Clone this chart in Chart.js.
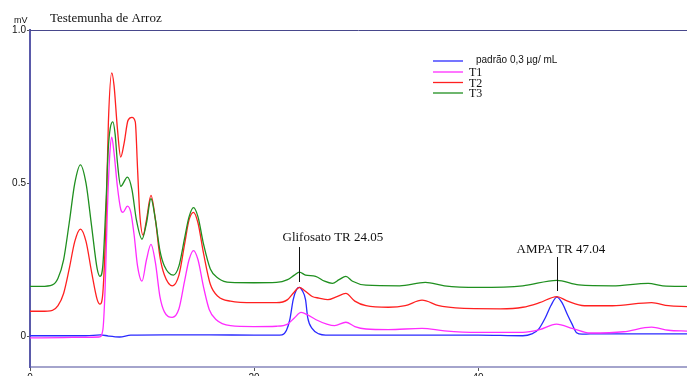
<!DOCTYPE html>
<html>
<head>
<meta charset="utf-8">
<script src="https://cdn.jsdelivr.net/npm/chart.js@4.4.1/dist/chart.umd.min.js"></script>
<style>
  html, body { margin: 0; padding: 0; background: #fff; }
  canvas { display: block; }
</style>
</head>
<body>
<canvas id="chrom" width="687" height="376"></canvas>
<script>
// chart values
const chartTitle = 'Testemunha de Arroz';
const yUnit = 'mV';
const xTickValues = [0, 20, 40];
const yTickValues = [0, 0.5, 1.0];
const yTickLabels = ['0', '0.5', '1.0'];
const seriesNames = ['padrão 0,3 µg/ mL', 'T1', 'T2', 'T3'];
const annotLabels = ['Glifosato TR 24.05', 'AMPA TR 47.04'];
const annotTimes = [24.05, 47.04];

// padrão 0,3 ug/mL
const padraoT = [0, 3, 5, 6.3, 7, 8, 9, 12, 16, 20, 22, 22.5, 22.9, 23.2, 23.5, 23.8, 24.05, 24.3, 24.6, 24.8, 25.2, 25.8, 26.4, 30, 35, 40, 44, 44.8, 45.4, 46.0, 46.5, 47.04, 47.5, 48.0, 48.4, 48.8, 49.3, 50, 55, 58.7];
const padraoV = [0.002, 0.002, 0.002, 0.005, 0.001, -0.002, 0.004, 0.005, 0.005, 0.004, 0.004, 0.005, 0.02, 0.055, 0.12, 0.153, 0.16, 0.15, 0.12, 0.06, 0.025, 0.008, 0.004, 0.004, 0.004, 0.004, 0.002, 0.008, 0.023, 0.06, 0.1, 0.128, 0.11, 0.07, 0.04, 0.012, 0.007, 0.008, 0.008, 0.008];

// T1
const t1T = [0, 3, 5, 6.2, 6.5, 6.7, 6.9, 7.1, 7.3, 7.5, 7.8, 8.1, 8.3, 8.7, 9.0, 9.3, 9.6, 10.0, 10.4, 10.8, 11.2, 11.6, 12.0, 12.7, 13.3, 13.8, 14.2, 14.6, 15.0, 15.5, 16.0, 16.6, 17.9, 20, 22, 23, 23.6, 24.2, 24.8, 25.5, 26.5, 27.2, 28.2, 29, 30, 32, 35, 37, 40, 44, 45.5, 47, 48.5, 50, 53, 55.5, 57, 58.7];
const t1V = [-0.005, -0.004, -0.003, -0.002, 0.02, 0.15, 0.4, 0.58, 0.65, 0.6, 0.49, 0.415, 0.405, 0.425, 0.405, 0.33, 0.23, 0.18, 0.25, 0.30, 0.24, 0.13, 0.08, 0.062, 0.09, 0.18, 0.25, 0.28, 0.25, 0.16, 0.088, 0.055, 0.035, 0.032, 0.033, 0.04, 0.06, 0.078, 0.07, 0.055, 0.04, 0.035, 0.046, 0.032, 0.024, 0.022, 0.026, 0.018, 0.013, 0.013, 0.022, 0.04, 0.025, 0.011, 0.015, 0.03, 0.02, 0.017];

// T2
const t2T = [0, 1, 2, 2.5, 3, 3.5, 4.0, 4.5, 5.0, 5.5, 6.0, 6.25, 6.5, 6.8, 7.0, 7.3, 7.5, 7.8, 8.1, 8.4, 8.75, 9.1, 9.4, 9.6, 9.8, 10.1, 10.4, 10.8, 11.2, 11.6, 12.0, 12.7, 13.3, 13.8, 14.2, 14.6, 15.0, 15.5, 16.1, 16.8, 17.9, 20, 22, 23, 23.6, 24.05, 24.5, 25.2, 25.8, 26.6, 27.4, 28.2, 29, 30, 32, 33.5, 35, 36.5, 38, 42, 44, 45.5, 47.04, 48, 49.5, 52, 55.5, 57, 58.7];
const t2V = [0.082, 0.082, 0.085, 0.1, 0.14, 0.22, 0.31, 0.35, 0.31, 0.21, 0.12, 0.105, 0.14, 0.4, 0.7, 0.86, 0.82, 0.68, 0.585, 0.63, 0.705, 0.715, 0.70, 0.55, 0.40, 0.33, 0.38, 0.46, 0.38, 0.26, 0.2, 0.165, 0.2, 0.3, 0.38, 0.405, 0.37, 0.27, 0.17, 0.13, 0.115, 0.11, 0.11, 0.12, 0.145, 0.16, 0.15, 0.13, 0.125, 0.12, 0.13, 0.14, 0.115, 0.1, 0.095, 0.1, 0.118, 0.1, 0.093, 0.09, 0.095, 0.11, 0.13, 0.115, 0.1, 0.1, 0.11, 0.1, 0.097];

// T3
const t3T = [0, 1, 2, 2.5, 3, 3.5, 4.0, 4.5, 5.0, 5.5, 6.0, 6.25, 6.5, 6.8, 7.0, 7.4, 7.6, 7.8, 8.1, 8.7, 9.1, 9.5, 10.0, 10.4, 10.8, 11.2, 11.6, 12.0, 12.8, 13.3, 13.8, 14.2, 14.6, 15.0, 15.5, 16.1, 16.8, 17.9, 20, 22, 23, 23.6, 24.05, 24.6, 25.5, 26.3, 27.0, 27.6, 28.2, 28.8, 30, 33, 35.3, 37, 40, 44, 47.04, 49, 52, 55.2, 56.5, 58.7];
const t3V = [0.163, 0.163, 0.168, 0.19, 0.25, 0.37, 0.5, 0.56, 0.5, 0.36, 0.22, 0.196, 0.23, 0.45, 0.62, 0.70, 0.66, 0.57, 0.49, 0.52, 0.48, 0.38, 0.317, 0.37, 0.45, 0.38, 0.28, 0.23, 0.2, 0.23, 0.32, 0.39, 0.42, 0.39, 0.3, 0.22, 0.19, 0.176, 0.175, 0.176, 0.185, 0.2, 0.21, 0.2, 0.196, 0.18, 0.173, 0.185, 0.196, 0.18, 0.167, 0.165, 0.176, 0.165, 0.16, 0.165, 0.183, 0.168, 0.165, 0.173, 0.165, 0.163];

const colors = ['#2a2aff', '#ff2cff', '#ff2020', '#1f8f1f'];

function pts(ts, vs) {
    return ts.map((t, i) => ({ x: t, y: vs[i] }));
}

const series = [pts(padraoT, padraoV), pts(t1T, t1V), pts(t2T, t2V), pts(t3T, t3V)];

// draw order: green at the back, blue on top
const datasets = [3, 2, 1, 0].map(i => ({
    label: seriesNames[i],
    data: series[i],
    borderColor: colors[i],
    borderWidth: 1.3,
    pointRadius: 0,
    fill: false,
    cubicInterpolationMode: 'monotone'
}));

// title, legend, peak labels and top frame
const extras = {
    id: 'extras',
    afterDraw(chart) {
        const ctx = chart.ctx;
        const area = chart.chartArea;
        const xs = chart.scales.x;
        ctx.save();

        ctx.strokeStyle = '#48488c';
        ctx.lineWidth = 1;
        ctx.beginPath();
        ctx.moveTo(area.left, area.top + 0.5);
        ctx.lineTo(area.right, area.top + 0.5);
        ctx.stroke();

        ctx.fillStyle = '#111';
        ctx.textBaseline = 'middle';
        ctx.font = '13px "Liberation Serif"';
        ctx.fillText(chartTitle, 50, 19);

        ctx.font = '9px "Liberation Sans"';
        ctx.fillText(yUnit, 14, 21);

        // legend
        const rows = [61, 72, 82.5, 93];
        seriesNames.forEach((name, i) => {
            ctx.strokeStyle = colors[i];
            ctx.lineWidth = 1.3;
            ctx.beginPath();
            ctx.moveTo(433, rows[i]);
            ctx.lineTo(463, rows[i]);
            ctx.stroke();
            ctx.fillStyle = '#111';
            if (i === 0) {
                ctx.font = '10px "Liberation Sans"';
                ctx.fillText(name, 476, rows[i] - 1);
            } else {
                ctx.font = '12px "Liberation Serif"';
                ctx.fillText(name, 469, rows[i] + 1);
            }
        });

        // peak annotations
        const textY = [238, 250];
        const textOff = [17, 41];
        const lineY = [[247, 282], [257, 291]];
        ctx.font = '13px "Liberation Serif"';
        annotLabels.forEach((lab, i) => {
            const px = Math.round(xs.getPixelForValue(annotTimes[i])) + 0.5;
            ctx.fillStyle = '#111';
            ctx.fillText(lab, px - textOff[i], textY[i]);
            ctx.strokeStyle = '#111';
            ctx.lineWidth = 1;
            ctx.beginPath();
            ctx.moveTo(px, lineY[i][0]);
            ctx.lineTo(px, lineY[i][1]);
            ctx.stroke();
        });
        ctx.restore();
    }
};

new Chart(document.getElementById('chrom'), {
    type: 'line',
    data: { datasets: datasets },
    options: {
        responsive: false,
        animation: false,
        devicePixelRatio: 1,
        layout: { padding: { top: 30, left: 0, right: 0, bottom: 0 } },
        plugins: { legend: { display: false }, tooltip: { enabled: false } },
        scales: {
            x: {
                type: 'linear',
                min: 0,
                max: 58.66,
                afterBuildTicks: s => { s.ticks = xTickValues.map(v => ({ value: v })); },
                afterFit: s => { s.height = 9; },
                ticks: { color: '#111', font: { family: 'Liberation Sans', size: 10 }, padding: 1, maxRotation: 0 },
                grid: { drawOnChartArea: false, drawTicks: true, tickLength: 4, color: '#555' },
                border: { color: '#a4a4cc', width: 2 }
            },
            y: {
                min: -0.1,
                max: 1.0,
                afterBuildTicks: s => { s.ticks = yTickValues.map(v => ({ value: v })); },
                afterFit: s => { s.width = 30; },
                ticks: {
                    color: '#111',
                    font: { family: 'Liberation Sans', size: 10 },
                    padding: 1,
                    callback: (v) => yTickLabels[yTickValues.indexOf(v)]
                },
                grid: { drawOnChartArea: false, drawTicks: true, tickLength: 3, color: '#555' },
                border: { color: '#5a5aaa', width: 2 }
            }
        }
    },
    plugins: [extras]
});
</script>
</body>
</html>
